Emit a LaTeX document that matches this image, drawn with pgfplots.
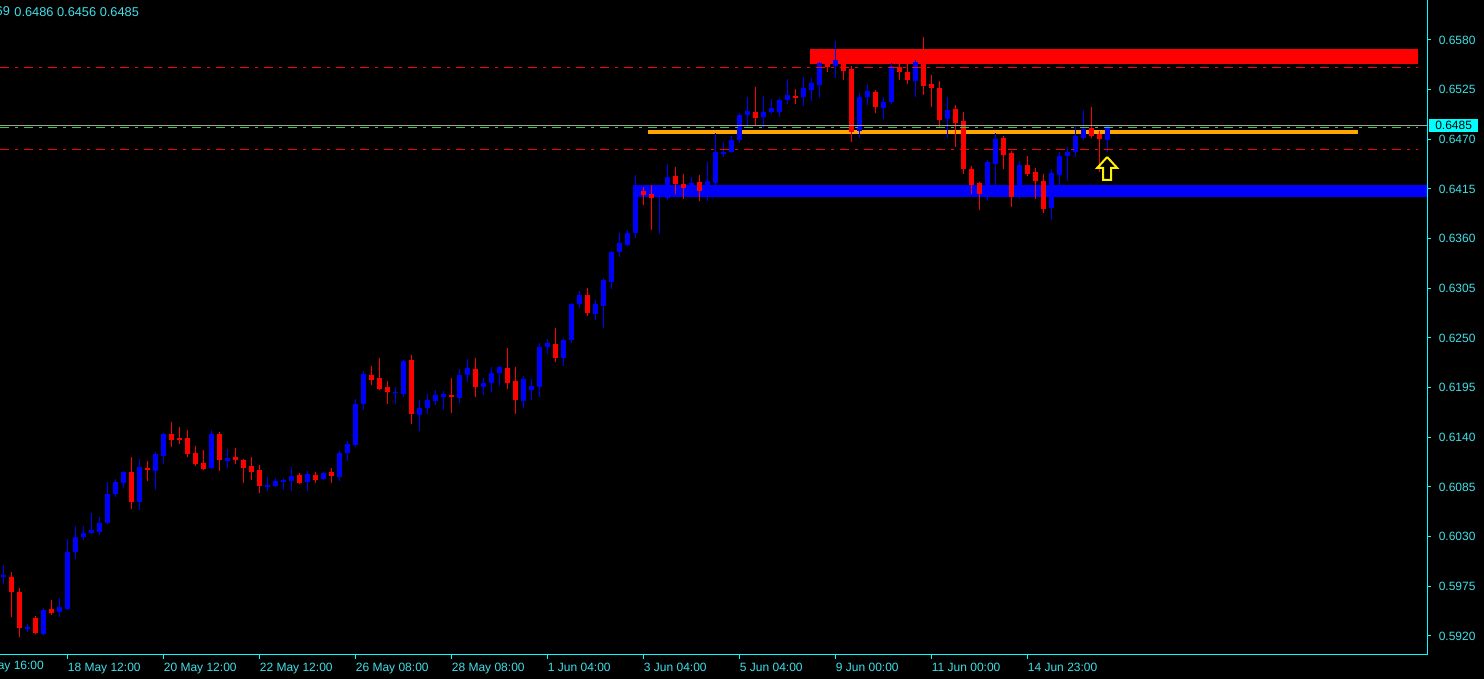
\documentclass[border=0pt]{standalone}
\usepackage{fontspec}
\setmainfont{Liberation Sans}
\usepackage{pgfplots}
\usepackage{pgfplotstable}
\pgfplotsset{compat=1.18}

\definecolor{mtcyan}{HTML}{00FFFF}
\definecolor{mttext}{HTML}{40E0E8}
\definecolor{mtorange}{HTML}{FFA500}
\definecolor{mtgreen}{HTML}{32CD32}
\definecolor{mtgray}{HTML}{A0A0A0}
\definecolor{mtblue}{HTML}{0000FF}
\definecolor{mtred}{HTML}{FF0000}

% H4 candles, k = bar index (left to right)
\pgfplotstableread{
k o h l c
0 0.5985 0.5999 0.5978 0.5987
3 0.5928 0.5933 0.5924 0.5930
5 0.5922 0.5951 0.5921 0.5949
7 0.5947 0.5962 0.5941 0.5952
8 0.5950 0.6027 0.5949 0.6013
9 0.6013 0.6042 0.6005 0.6030
10 0.6030 0.6042 0.6026 0.6034
11 0.6034 0.6056 0.6033 0.6037
12 0.6035 0.6052 0.6032 0.6045
13 0.6045 0.6090 0.6044 0.6077
14 0.6077 0.6094 0.6074 0.6090
15 0.6089 0.6103 0.6084 0.6102
17 0.6068 0.6116 0.6060 0.6107
19 0.6103 0.6124 0.6082 0.6121
20 0.6119 0.6145 0.6110 0.6144
26 0.6106 0.6148 0.6105 0.6144
28 0.6114 0.6127 0.6106 0.6117
33 0.6085 0.6096 0.6081 0.6087
34 0.6086 0.6095 0.6085 0.6092
35 0.6091 0.6095 0.6082 0.6093
36 0.6092 0.6107 0.6081 0.6097
38 0.6091 0.6103 0.6081 0.6099
40 0.6094 0.6102 0.6093 0.6100
42 0.6096 0.6125 0.6092 0.6123
43 0.6123 0.6136 0.6114 0.6133
44 0.6132 0.6182 0.6129 0.6177
45 0.6177 0.6213 0.6170 0.6210
49 0.6189 0.6196 0.6177 0.6190
50 0.6188 0.6226 0.6185 0.6225
52 0.6165 0.6181 0.6147 0.6172
53 0.6172 0.6188 0.6166 0.6181
54 0.6180 0.6192 0.6176 0.6187
55 0.6185 0.6191 0.6170 0.6188
57 0.6184 0.6216 0.6178 0.6209
58 0.6209 0.6227 0.6201 0.6217
60 0.6196 0.6206 0.6187 0.6200
61 0.6200 0.6218 0.6190 0.6211
62 0.6211 0.6219 0.6197 0.6218
65 0.6180 0.6208 0.6172 0.6205
66 0.6192 0.6205 0.6181 0.6197
67 0.6196 0.6245 0.6185 0.6240
68 0.6240 0.6249 0.6232 0.6244
70 0.6228 0.6250 0.6219 0.6248
71 0.6248 0.6289 0.6244 0.6288
72 0.6288 0.6302 0.6283 0.6298
74 0.6277 0.6292 0.6270 0.6288
75 0.6285 0.6316 0.6261 0.6314
76 0.6312 0.6346 0.6304 0.6345
77 0.6345 0.6366 0.6340 0.6355
78 0.6353 0.6370 0.6352 0.6366
79 0.6366 0.6430 0.6361 0.6414
82 0.6407 0.6414 0.6365 0.6412
83 0.6405 0.6443 0.6403 0.6428
86 0.6418 0.6428 0.6414 0.6422
88 0.6416 0.6445 0.6402 0.6424
89 0.6422 0.6477 0.6419 0.6456
90 0.6454 0.6467 0.6450 0.6456
91 0.6456 0.6474 0.6455 0.6469
92 0.6469 0.6499 0.6466 0.6497
93 0.6497 0.6517 0.6484 0.6501
95 0.6495 0.6518 0.6482 0.6500
96 0.6500 0.6515 0.6498 0.6505
97 0.6500 0.6516 0.6495 0.6514
98 0.6514 0.6537 0.6509 0.6519
100 0.6517 0.6539 0.6507 0.6527
101 0.6525 0.6538 0.6512 0.6532
102 0.6530 0.6556 0.6516 0.6555
104 0.6551 0.6579 0.6538 0.6558
107 0.6479 0.6521 0.6471 0.6517
108 0.6517 0.6531 0.6508 0.6523
110 0.6505 0.6517 0.6492 0.6511
111 0.6511 0.6555 0.6509 0.6551
114 0.6535 0.6558 0.6517 0.6556
118 0.6492 0.6517 0.6471 0.6503
123 0.6414 0.6447 0.6402 0.6445
124 0.6443 0.6477 0.6419 0.6470
127 0.6406 0.6446 0.6404 0.6442
131 0.6394 0.6437 0.6381 0.6433
132 0.6431 0.6456 0.6419 0.6452
133 0.6452 0.6462 0.6424 0.6456
134 0.6456 0.6484 0.6450 0.6474
135 0.6471 0.6502 0.6469 0.6481
138 0.6469 0.6486 0.6456 0.6485
}\bull

\pgfplotstableread{
k o h l c
1 0.5985 0.5991 0.5941 0.5969
2 0.5969 0.5973 0.5919 0.5929
4 0.5940 0.5942 0.5922 0.5923
6 0.5950 0.5960 0.5943 0.5945
16 0.6102 0.6118 0.6061 0.6068
18 0.6106 0.6114 0.6092 0.6104
21 0.6144 0.6157 0.6129 0.6137
22 0.6139 0.6151 0.6133 0.6137
23 0.6139 0.6148 0.6118 0.6121
24 0.6123 0.6130 0.6108 0.6110
25 0.6112 0.6126 0.6104 0.6105
27 0.6144 0.6146 0.6103 0.6115
29 0.6118 0.6128 0.6110 0.6115
30 0.6115 0.6116 0.6089 0.6106
31 0.6108 0.6118 0.6093 0.6102
32 0.6104 0.6109 0.6078 0.6086
37 0.6098 0.6100 0.6088 0.6089
39 0.6098 0.6102 0.6089 0.6093
41 0.6102 0.6106 0.6089 0.6097
46 0.6209 0.6219 0.6198 0.6203
47 0.6206 0.6228 0.6192 0.6193
48 0.6196 0.6202 0.6177 0.6190
51 0.6226 0.6231 0.6155 0.6166
56 0.6187 0.6206 0.6167 0.6185
59 0.6216 0.6228 0.6185 0.6196
63 0.6217 0.6239 0.6193 0.6200
64 0.6202 0.6218 0.6166 0.6181
69 0.6243 0.6261 0.6223 0.6228
73 0.6298 0.6305 0.6274 0.6278
80 0.6413 0.6417 0.6397 0.6408
81 0.6410 0.6419 0.6370 0.6405
84 0.6429 0.6439 0.6410 0.6420
85 0.6420 0.6432 0.6404 0.6416
87 0.6423 0.6430 0.6402 0.6413
94 0.6500 0.6528 0.6486 0.6494
99 0.6518 0.6526 0.6509 0.6516
103 0.6555 0.6560 0.6545 0.6550
105 0.6555 0.6560 0.6536 0.6546
106 0.6548 0.6551 0.6467 0.6478
109 0.6522 0.6525 0.6499 0.6506
112 0.6550 0.6556 0.6536 0.6545
113 0.6545 0.6553 0.6531 0.6536
115 0.6555 0.6583 0.6519 0.6529
116 0.6531 0.6541 0.6506 0.6527
117 0.6527 0.6535 0.6483 0.6491
119 0.6504 0.6508 0.6461 0.6488
120 0.6490 0.6500 0.6432 0.6437
121 0.6437 0.6440 0.6410 0.6419
122 0.6422 0.6423 0.6392 0.6410
125 0.6472 0.6474 0.6437 0.6453
126 0.6455 0.6457 0.6395 0.6406
128 0.6442 0.6452 0.6429 0.6432
129 0.6434 0.6438 0.6404 0.6424
130 0.6424 0.6432 0.6388 0.6393
136 0.6482 0.6506 0.6471 0.6474
137 0.6476 0.6479 0.6434 0.6470
}\bear

\pgfplotsset{
  wick/.style={draw=none, mark=none,
    error bars/.cd, y dir=plus, y explicit, error mark=none,
    error bar style={draw=#1, solid, line width=0.5pt}},
  body/.style={draw=none, mark=none,
    error bars/.cd, y dir=plus, y explicit, error mark=none,
    error bar style={draw=#1, solid, line width=2.5pt}},
  dashdot/.style={#1, line width=0.5pt, dash pattern=on 4.5pt off 3pt on 1.5pt off 3pt},
}

\newcommand{\lbl}{\fontsize{6}{7}\selectfont}

\begin{document}
\begin{tikzpicture}
\useasboundingbox (0,0) rectangle (742pt,339.5pt);
\fill[black] (0,0) rectangle (742pt,339.5pt);

\begin{axis}[
  at={(0pt,12pt)}, anchor=south west,
  scale only axis, width=713.5pt, height=327.5pt,
  xmin=-0.4375, xmax=177.9375,
  ymin=0.589895, ymax=0.66243,
  axis x line*=bottom, axis y line*=right,
  axis line style={-, mtcyan, line width=0.5pt},
  tick style={mtcyan, line width=0.5pt},
  major tick length=2pt, tick align=outside,
  xtick={8,20,32,44,56,68,80,92,104,116,128},
  xticklabels={18 May 12:00,20 May 12:00,22 May 12:00,26 May 08:00,28 May 08:00,
    1 Jun 04:00,3 Jun 04:00,5 Jun 04:00,9 Jun 00:00,11 Jun 00:00,14 Jun 23:00},
  ytick={0.5920,0.5975,0.6030,0.6085,0.6140,0.6195,0.6250,0.6305,0.6360,0.6415,0.6470,0.6525,0.6580},
  yticklabels={0.5920,0.5975,0.6030,0.6085,0.6140,0.6195,0.6250,0.6305,0.6360,0.6415,0.6470,0.6525,0.6580},
  ticklabel style={font=\lbl, text=mttext, inner sep=0pt},
  xticklabel style={anchor=north west, yshift=-2pt},
  yticklabel style={anchor=west, xshift=3.7pt},
  clip mode=individual,
]

% zones
\addplot[draw=none, fill=mtblue] coordinates {(78.7,0.6406) (177.9375,0.6406) (177.9375,0.6419) (78.7,0.6419)};
\addplot[draw=none, fill=mtred] coordinates {(100.84,0.6553) (176.84,0.6553) (176.84,0.6570) (100.84,0.6570)};
\addplot[mtorange, line width=2.35pt] coordinates {(80.6,0.6478) (169.3,0.6478)};

% candles
\addplot[wick=mtblue] table[x=k, y=l, y error expr=\thisrow{h}-\thisrow{l}] {\bull};
\addplot[wick=mtred] table[x=k, y=l, y error expr=\thisrow{h}-\thisrow{l}] {\bear};
\addplot[body=mtblue] table[x=k, y=o, y error expr=\thisrow{c}-\thisrow{o}] {\bull};
\addplot[body=mtred] table[x=k, y=c, y error expr=\thisrow{o}-\thisrow{c}] {\bear};

% levels
\addplot[dashdot=mtred] coordinates {(-0.4375,0.6550) (176.84,0.6550)};
\addplot[dashdot=mtred] coordinates {(-0.4375,0.6459) (176.84,0.6459)};
\addplot[dashdot=mtgreen] coordinates {(-0.4375,0.6483) (176.84,0.6483)};
\addplot[mtgray, line width=0.5pt] coordinates {(-0.4375,0.6485) (177.9375,0.6485)};

% arrow
\addplot[yellow, line width=1pt, line join=miter] coordinates {
  (137.96,0.64504) (139.21,0.64383) (138.46,0.64383) (138.46,0.64250)
  (137.46,0.64250) (137.46,0.64383) (136.71,0.64383) (137.96,0.64504)};

% price box and first date label
\node[fill=mtcyan, text=black, inner sep=0pt, minimum width=24.8pt, minimum height=6.5pt,
  anchor=west, font=\lbl, xshift=0.7pt] at (axis cs:177.9375,0.6485) {0.6485};
\node[anchor=north east, inner sep=0pt, font=\lbl, text=mttext, yshift=-3pt]
  at (axis cs:5.09,0.589895) {16 May 16:00};
\end{axis}

\begin{scope}
\clip (0,0) rectangle (742pt,339.5pt);
\node[anchor=west, inner sep=0pt, font=\fontsize{6.4}{7}\selectfont, text=mttext] at (7pt,333.5pt) {0.6486 0.6456 0.6485};
\node[anchor=east, inner sep=0pt, font=\fontsize{6.4}{7}\selectfont, text=mttext] at (5.2pt,333.5pt) {AUDUSD,H4 0.6469};
\end{scope}
\end{tikzpicture}
\end{document}
